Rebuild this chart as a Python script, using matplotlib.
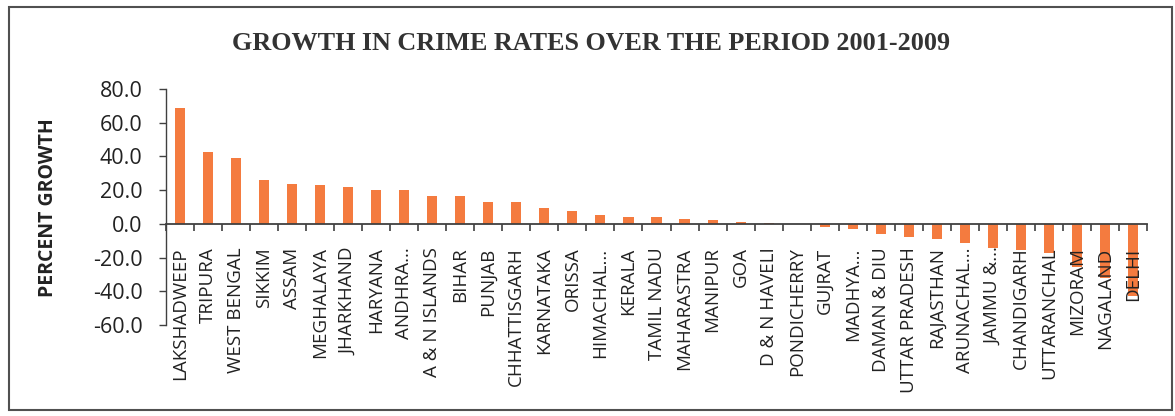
import numpy as np
import matplotlib.pyplot as plt
from matplotlib.patches import Rectangle
from matplotlib.ticker import MultipleLocator, FormatStrFormatter

states = ['LAKSHADWEEP', 'TRIPURA', 'WEST BENGAL', 'SIKKIM', 'ASSAM', 'MEGHALAYA',
          'JHARKHAND', 'HARYANA', 'ANDHRA...', 'A & N ISLANDS', 'BIHAR', 'PUNJAB',
          'CHHATTISGARH', 'KARNATAKA', 'ORISSA', 'HIMACHAL...', 'KERALA', 'TAMIL NADU',
          'MAHARASTRA', 'MANIPUR', 'GOA', 'D & N HAVELI', 'PONDICHERRY', 'GUJRAT',
          'MADHYA...', 'DAMAN & DIU', 'UTTAR PRADESH', 'RAJASTHAN', 'ARUNACHAL...',
          'JAMMU &...', 'CHANDIGARH', 'UTTARANCHAL', 'MIZORAM', 'NAGALAND', 'DELHI']
growth = [68.8, 42.7, 39.1, 25.9, 23.5, 22.9,
          22.1, 20.3, 20.3, 16.5, 16.4, 13.2,
          12.7, 9.6, 7.5, 5.3, 4.0, 3.9,
          3.0, 2.0, 1.1, 0.4, 0.0, -2.0,
          -3.0, -6.1, -7.5, -9.1, -11.5,
          -14.1, -15.5, -17.0, -25.5, -32.0, -43.0]

bar_color = '#F47B3F'
axis_color = '#404040'

fig = plt.figure(figsize=(11.75, 4.16), dpi=100)
ax = fig.add_axes([166/1175, 1 - 325/416, (1147 - 166)/1175, (325 - 89)/416])

x = np.arange(len(states))
ax.bar(x, growth, width=0.36, color=bar_color, zorder=1)

ax.set_xlim(-0.5, len(states) - 0.5)
ax.set_ylim(-60, 80)

# --- axes look like the Excel original
for s in ['top', 'right']:
  ax.spines[s].set_visible(False)
ax.spines['bottom'].set_position(('data', 0))
ax.spines['bottom'].set_color(axis_color)
ax.spines['left'].set_color(axis_color)
ax.spines['bottom'].set_linewidth(1.3)
ax.spines['left'].set_linewidth(1.0)

ax.set_xticks(x)
ax.set_xticklabels(states, rotation=90, fontsize=13.5, family='Open Sans', color='#222222', va='top')
ax.xaxis.set_minor_locator(MultipleLocator(1, offset=0.5))
ax.tick_params(axis='x', which='major', length=0, pad=17)
ax.tick_params(axis='x', which='minor', length=5, width=1.2, color=axis_color, direction='out')
for lbl in ax.get_xticklabels():
  lbl.set_zorder(3)

ax.yaxis.set_major_locator(MultipleLocator(20))
ax.yaxis.set_major_formatter(FormatStrFormatter('%.1f'))
ax.tick_params(axis='y', length=5, width=1.0, color=axis_color, labelsize=15.5,
               labelcolor='#222222', pad=12)
for lbl in ax.get_yticklabels():
  lbl.set_family('Open Sans')

ax.set_ylabel('PERCENT GROWTH', fontsize=14, fontweight='bold', family='Open Sans', color='#222222')
ax.yaxis.set_label_coords(58/1175, 0.5, transform=fig.transFigure)

fig.text(591/1175, 1 - 43/416, 'GROWTH IN CRIME RATES OVER THE PERIOD 2001-2009',
         ha='center', va='center', fontsize=18.8, fontweight='bold',
         family='Liberation Serif', color='#333333')

# Outer frame of the chart
fig.patches.append(Rectangle((9/1175, 1 - 410/416), (1172 - 9)/1175, (410 - 7)/416,
                             transform=fig.transFigure, fill=False,
                             edgecolor='#505050', linewidth=1.5))

plt.savefig('out.png', dpi=100)
